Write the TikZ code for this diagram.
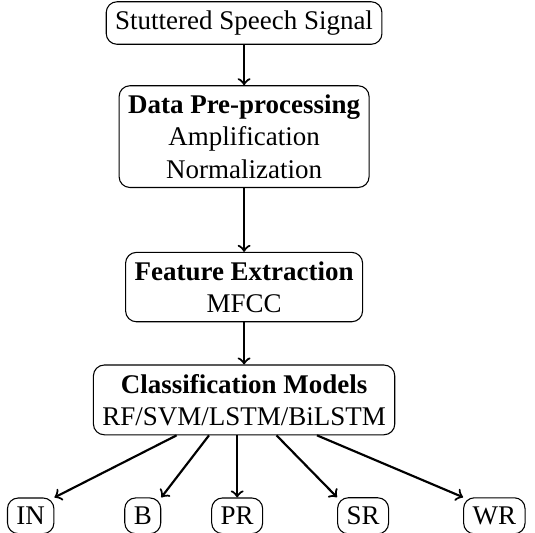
\documentclass[tikz,border=0pt]{standalone}
\usepackage{fontspec}
\setmainfont{Liberation Serif}
\usepackage{tikz}

\begin{document}
\begin{tikzpicture}[box/.style={draw, rounded corners, align=center}, flow/.style={->, thick}]
	\useasboundingbox (0,0) rectangle (6.97,-6.94);
	\node[box] (sig) at (3.18,-.30) {Stuttered Speech Signal};
	\node[box] (pre) at (3.18,-1.78) {\textbf{Data Pre-processing}\\Amplification\\Normalization};
	\node[box] (feat) at (3.18,-3.74) {\textbf{Feature Extraction}\\MFCC};
	\node[box] (cls) at (3.18,-5.21) {\textbf{Classification Models}\\RF/SVM/LSTM/BiLSTM};
	% disfluency classes
	\node[box] (in) at (.40,-6.72) {IN};
	\node[box] (b) at (1.86,-6.72) {B};
	\node[box] (pr) at (3.09,-6.72) {PR};
	\node[box] (sr) at (4.73,-6.72) {SR};
	\node[box] (wr) at (6.44,-6.72) {WR};
	\draw[flow] (sig) -- (pre);
	\draw[flow] (pre) -- (feat);
	\draw[flow] (feat) -- (cls);
	\draw[flow] ([xshift=-25pt]cls.south) -- (in.north east);
	\draw[flow] ([xshift=-13pt]cls.south) -- (b.north east);
	\draw[flow] (cls.south -| pr.north) -- (pr.north);
	\draw[flow] ([xshift=12pt]cls.south) -- (sr.north west);
	\draw[flow] ([xshift=27pt]cls.south) -- (wr.north west);
\end{tikzpicture}
\end{document}
